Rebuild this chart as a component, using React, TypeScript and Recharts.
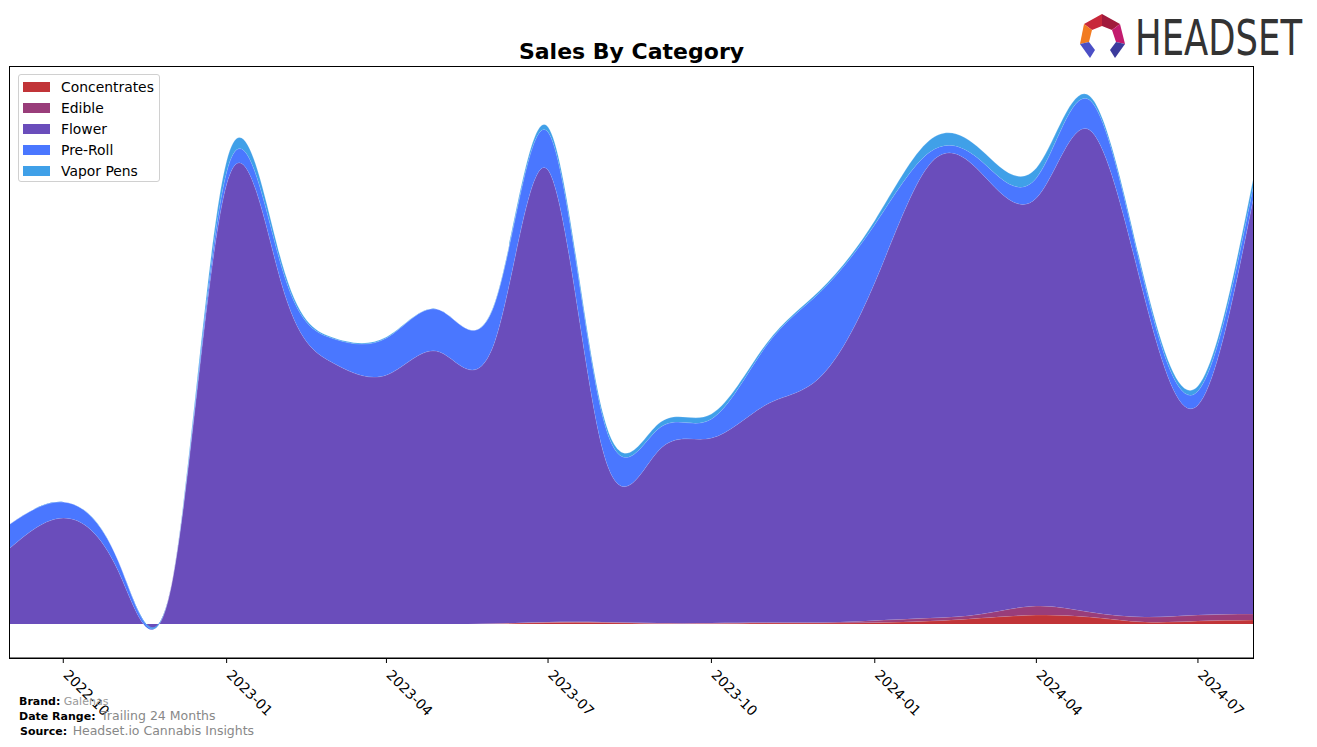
import React from 'react';
import { AreaChart, Area, XAxis, YAxis } from 'recharts';

const months = [
  '2022-09', '2022-10', '2022-11', '2022-12', '2023-01', '2023-02', '2023-03', '2023-04',
  '2023-05', '2023-06', '2023-07', '2023-08', '2023-09', '2023-10', '2023-11', '2023-12',
  '2024-01', '2024-02', '2024-03', '2024-04', '2024-05', '2024-06', '2024-07', '2024-08',
];
const concentrates = [0, 0, 0, 0, 0, 0, 0, 0, 0, 0.5, 1.5, 1.5, 0.5, 0.5, 1, 1, 1.5, 3, 6, 9, 7, 2, 3, 4];
const edible = [0, 0, 0, 0, 0, 0, 0, 0, 0, 0, 0.5, 0.5, 0.5, 0.5, 0.5, 0.5, 2, 3, 4, 9, 5, 5, 6, 6];
const flower = [76, 106, 53, 40, 440, 340, 262, 249, 272, 282, 452, 171, 172, 185, 218, 245, 338, 454, 441, 408, 482, 319, 210, 414];
const preRoll = [24, 16, 10, 0, 12, 17, 24, 37, 42, 38, 38, 33, 22, 19, 59, 85, 58, 12, 12, 20, 30, 14, 14, 12];
const vaporPens = [0, 0, 0, 0, 11, 5, 1, 1, 0, 1, 5, 4, 5, 5, 2, 2, 4, 12, 11, 10, 4, 4, 5, 8];
const tickMonths = ['2022-10', '2023-01', '2023-04', '2023-07', '2023-10', '2024-01', '2024-04', '2024-07'];

const seriesNames = ['Concentrates', 'Edible', 'Flower', 'Pre-Roll', 'Vapor Pens'];
const seriesColors = ['#C13438', '#993D7A', '#6A4DBB', '#4A77FF', '#40A0E8'];
const seriesValues = [concentrates, edible, flower, preRoll, vaporPens];

const toTs = (m: string) => {
  const [y, mo] = m.split('-').map(Number);
  return Date.UTC(y, mo - 1, 1);
};

const data = months.map((m, i) => {
  const row: Record<string, number | string> = { t: toTs(m), month: m };
  seriesNames.forEach((n, k) => {
    row[n] = seriesValues[k][i];
  });
  return row;
});

const tickTs = tickMonths.map(toTs);

const formatMonth = (ts: number) => {
  const d = new Date(ts);
  const mm = String(d.getUTCMonth() + 1).padStart(2, '0');
  return `${d.getUTCFullYear()}-${mm}`;
};

const RotTick = (props: any) => {
  const { x, y, payload } = props;
  const tx = x + 2;
  const ty = y + 8;
  return (
    <text
      x={tx}
      y={ty}
      transform={`rotate(45, ${tx}, ${ty})`}
      textAnchor="start"
      fontSize={13.9}
      fill="#000"
      fontFamily="DejaVu Sans"
      dominantBaseline="middle"
    >
      {formatMonth(payload.value)}
    </text>
  );
};

const LegendBox = () => (
  <div
    style={{
      position: 'absolute',
      left: 18,
      top: 74,
      background: '#fff',
      border: '1px solid #d0d0d0',
      borderRadius: 3,
      width: 142,
      height: 108,
      boxSizing: 'border-box',
      paddingTop: 1,
      fontFamily: 'DejaVu Sans',
    }}
  >
    {seriesNames.map((n, i) => (
      <div key={n} style={{ display: 'flex', alignItems: 'center', height: 21 }}>
        <div style={{ width: 27, height: 10, background: seriesColors[i], marginLeft: 4 }} />
        <span style={{ marginLeft: 11, fontSize: 13.9, color: '#000' }}>{n}</span>
      </div>
    ))}
  </div>
);

const Logo = () => (
  <svg width={247} height={62} style={{ position: 'absolute', left: 1070, top: 4 }} viewBox="1070 4 247 62">
    <polygon points="1084,24 1102,14 1102,26 1092,30" fill="#C8283A" />
    <polygon points="1102,14 1120,24 1112,30 1102,26" fill="#A11A3C" />
    <polygon points="1120,24 1125,44 1116,42 1112,30" fill="#C21B6E" />
    <polygon points="1084,24 1092,30 1089,42 1080,44" fill="#F27B21" />
    <polygon points="1080,44 1089,42 1095,50 1090,58" fill="#4B4FC6" />
    <polygon points="1125,44 1116,42 1110,50 1115,58" fill="#3C3B9C" />
    <text
      x={1135}
      y={55}
      fontFamily="DejaVu Sans Condensed, DejaVu Sans"
      fontSize={50}
      fill="#333333"
      textLength={167}
      lengthAdjust="spacingAndGlyphs"
    >
      HEADSET
    </text>
  </svg>
);

export default function App() {
  return (
    <div
      style={{
        position: 'absolute',
        left: 0,
        top: 0,
        width: 1317,
        height: 747,
        background: '#fff',
        fontFamily: 'DejaVu Sans',
      }}
    >
      <div
        style={{
          position: 'absolute',
          left: 10,
          width: 1243,
          top: 38,
          textAlign: 'center',
          fontSize: 22,
          lineHeight: '28px',
          fontWeight: 'bold',
          color: '#000',
        }}
      >
        Sales By Category
      </div>
      <Logo />
      <AreaChart
        width={1317}
        height={747}
        data={data}
        margin={{ top: 67, left: 10, right: 64, bottom: 29 }}
      >
        <XAxis
          dataKey="t"
          type="number"
          domain={[toTs(months[0]), toTs(months[months.length - 1])]}
          ticks={tickTs}
          tick={<RotTick />}
          tickLine={{ stroke: '#000' }}
          axisLine={{ stroke: '#000' }}
          tickSize={5}
          height={60}
          interval={0}
          allowDataOverflow
        />
        <YAxis hide domain={[-34, 557]} allowDataOverflow type="number" />
        {seriesNames.map((n, i) => (
          <Area
            key={n}
            dataKey={n}
            stackId="1"
            type="natural"
            fill={seriesColors[i]}
            fillOpacity={1}
            stroke="#ffffff"
            strokeOpacity={0.25}
            strokeWidth={0.8}
            isAnimationActive={false}
          />
        ))}
      </AreaChart>
      <LegendBox />
      <div
        style={{
          position: 'absolute',
          left: 9,
          top: 66,
          width: 1245,
          height: 593,
          border: '1px solid #000',
          boxSizing: 'border-box',
          pointerEvents: 'none',
        }}
      />
      <div style={{ position: 'absolute', left: 19, top: 695, fontSize: 11, lineHeight: '14px', whiteSpace: 'nowrap' }}>
        <b>Brand:</b> <span style={{ color: '#999', fontSize: 11 }}>Galenas</span>
      </div>
      <div style={{ position: 'absolute', left: 19, top: 708, fontSize: 11, lineHeight: '16px', whiteSpace: 'nowrap' }}>
        <b>Date Range:</b> <span style={{ color: '#888', fontSize: 12.5, marginLeft: 2 }}>Trailing 24 Months</span>
      </div>
      <div style={{ position: 'absolute', left: 20, top: 723, fontSize: 11, lineHeight: '16px', whiteSpace: 'nowrap' }}>
        <b>Source:</b> <span style={{ color: '#888', fontSize: 12.5, marginLeft: 2 }}>Headset.io Cannabis Insights</span>
      </div>
    </div>
  );
}
